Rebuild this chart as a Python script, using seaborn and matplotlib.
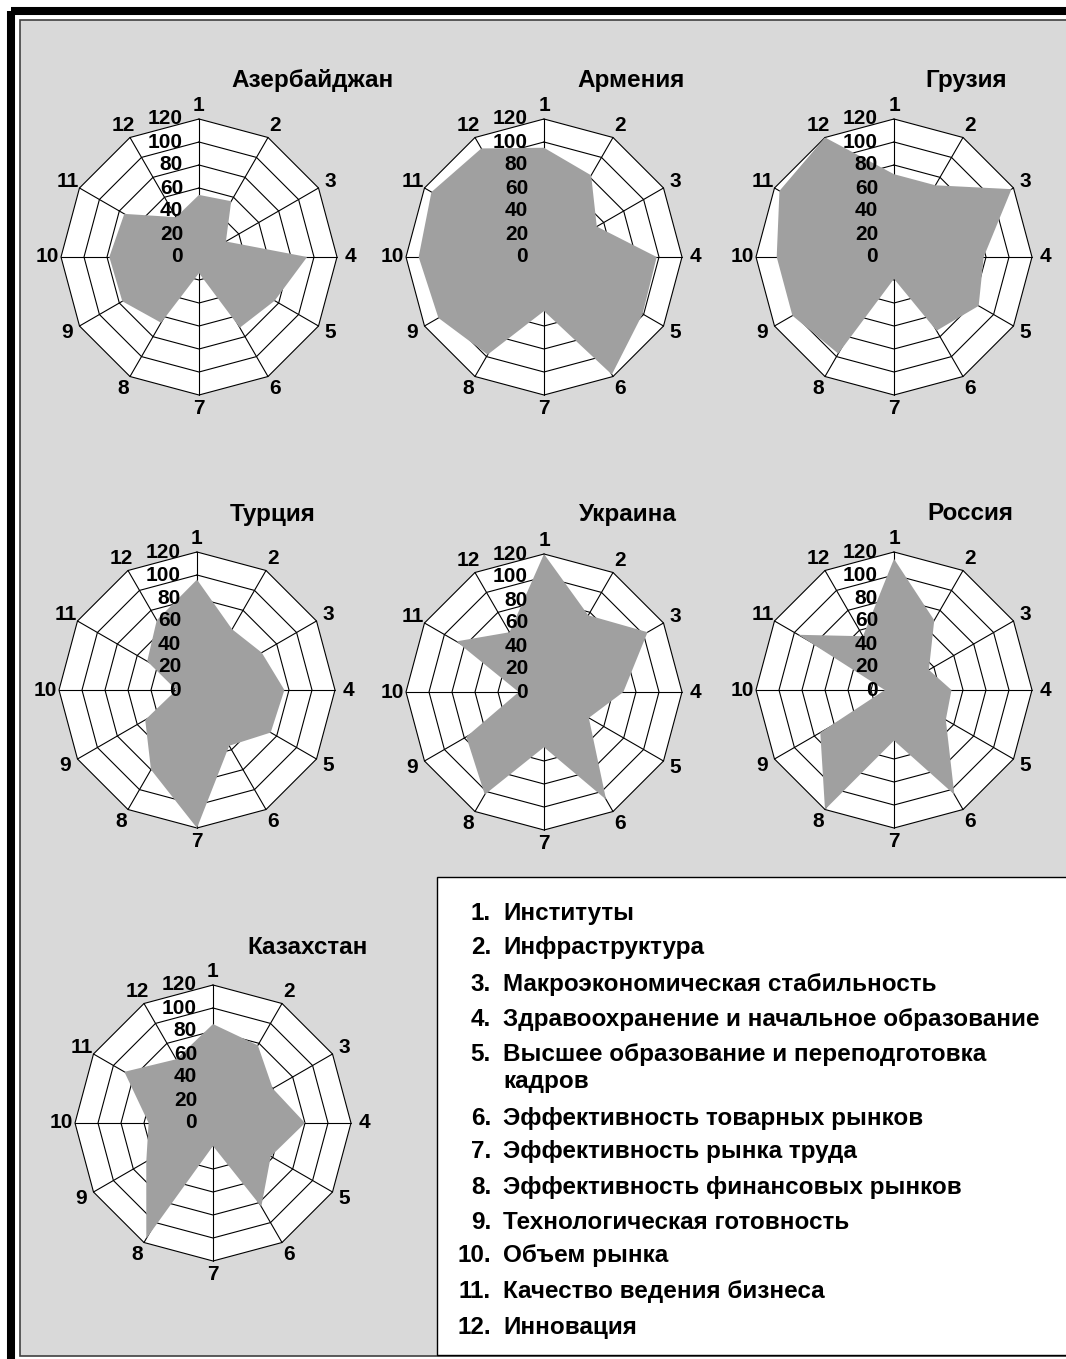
import numpy as np
import matplotlib
matplotlib.use("Agg")
import matplotlib.pyplot as plt
from matplotlib.patches import Rectangle
import seaborn as sns

# ------------------------ DATA ------------------------

axis_labels = [str(i) for i in range(1, 13)]
ring_values = [0, 20, 40, 60, 80, 100, 120]

countries = ["Азербайджан", "Армения", "Грузия", "Турция", "Украина", "Россия", "Казахстан"]
azerbaijan = [54, 56, 27, 94, 76, 71, 14, 66, 77, 78, 75, 40]
armenia = [95, 82, 53, 98, 99, 118, 47, 98, 106, 109, 113, 109]
georgia = [72, 72, 118, 78, 85, 74, 19, 97, 102, 102, 115, 120]
turkey = [96, 61, 65, 76, 74, 56, 120, 80, 52, 18, 50, 70]
ukraine = [120, 77, 104, 69, 45, 108, 48, 103, 78, 22, 88, 60]
russia = [114, 70, 35, 50, 52, 105, 44, 120, 74, 8, 96, 54]
kazakhstan = [86, 78, 60, 80, 58, 84, 20, 116, 67, 56, 89, 64]
series = [azerbaijan, armenia, georgia, turkey, ukraine, russia, kazakhstan]

legend_items = [
    ("1.", ["Институты"]),
    ("2.", ["Инфраструктура"]),
    ("3.", ["Макроэкономическая стабильность"]),
    ("4.", ["Здравоохранение и начальное образование"]),
    ("5.", ["Высшее образование и переподготовка", "кадров"]),
    ("6.", ["Эффективность товарных рынков"]),
    ("7.", ["Эффективность рынка труда"]),
    ("8.", ["Эффективность финансовых рынков"]),
    ("9.", ["Технологическая готовность"]),
    ("10.", ["Объем рынка"]),
    ("11.", ["Качество ведения бизнеса"]),
    ("12.", ["Инновация"]),
]

# ------------------------ LAYOUT (pixels) ------------------------

W, H = 1066, 1359
R = 138
centers = [(199, 257), (544, 257), (894, 257),
           (197, 690), (544, 692), (894, 690),
           (213, 1123)]
title_pos = [(313, 81), (631, 81), (966, 81),
             (273, 514), (628, 514), (970, 514),
             (308, 948)]
# baselines of the legend rows
legend_rows = [920, 954, 991, 1026, 1061, 1125, 1158, 1194, 1229, 1262, 1298, 1334]
legend_line2 = 1088

FILL = "#a0a0a0"
PANEL = "#d9d9d9"

sns.set_theme(style="white")
plt.rcParams["font.family"] = ["Liberation Sans", "DejaVu Sans"]
plt.rcParams["font.weight"] = "bold"
plt.rcParams["text.color"] = "black"

fig = plt.figure(figsize=(W / 100, H / 100), dpi=100)
fig.patch.set_facecolor("white")

# background / frame axes in pixel coordinates
bg = fig.add_axes([0, 0, 1, 1])
bg.set_xlim(0, W)
bg.set_ylim(H, 0)
bg.axis("off")
bg.add_patch(Rectangle((11, 11), W + 50, H + 50, fill=False, edgecolor="black", lw=5.8))
bg.add_patch(Rectangle((19.5, 19.5), W + 20, 1336.5, facecolor=PANEL, edgecolor="#404040", lw=1.2))
bg.add_patch(Rectangle((436.5, 877), W, 478, facecolor="white", edgecolor="black", lw=1.0))

LEG_FS = 17.5
for (num, lines), y in zip(legend_items, legend_rows):
    bg.text(491, y, num, ha="right", va="baseline", fontsize=LEG_FS, fontweight="bold", color="black")
    bg.text(503, y, lines[0], ha="left", va="baseline", fontsize=LEG_FS, fontweight="bold", color="black")
    if len(lines) > 1:
        bg.text(503, legend_line2, lines[1], ha="left", va="baseline", fontsize=LEG_FS,
                fontweight="bold", color="black")

theta = np.linspace(0, 2 * np.pi, len(axis_labels), endpoint=False)
theta_closed = np.append(theta, theta[0])

for name, vals, (cx, cy), (tx, ty) in zip(countries, series, centers, title_pos):
    ax = fig.add_axes([(cx - R) / W, 1 - (cy + R) / H, 2 * R / W, 2 * R / H], projection="polar")
    ax.set_theta_zero_location("N")
    ax.set_theta_direction(-1)
    ax.set_ylim(0, 120)
    ax.set_axis_off()

    # white plot area and polygonal grid
    ax.fill(theta, [120] * len(theta), color="white", zorder=1, lw=0)
    for r in ring_values[1:]:
        ax.plot(theta_closed, [r] * len(theta_closed), color="black", lw=0.8, zorder=2, clip_on=False)
    for t in theta:
        ax.plot([t, t], [0, 120], color="black", lw=0.8, zorder=2, clip_on=False)

    # data polygon
    ax.fill(theta, vals, color=FILL, lw=0, zorder=3)

    # radial value labels along axis 1
    for r in ring_values:
        ax.annotate(str(r), xy=(0, r), xytext=(-11.5, 0), textcoords="offset points",
                    ha="right", va="center", fontsize=15, fontweight="bold", color="black",
                    zorder=5, annotation_clip=False)

    # category labels
    for t, lab in zip(theta, axis_labels):
        ax.text(t, 132, lab, ha="center", va="center", fontsize=15, fontweight="bold",
                color="black", clip_on=False)

    bg.text(tx, ty, name, ha="center", va="center", fontsize=17.5, fontweight="bold", color="black")

fig.savefig("out.png", dpi=100, facecolor="white")
